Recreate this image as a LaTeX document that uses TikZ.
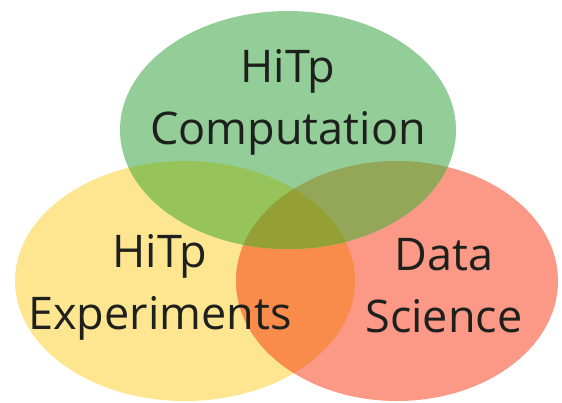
\documentclass[tikz,border=0pt]{standalone}
\usepackage{fontspec}
\setmainfont{Open Sans}
\newcommand{\vennellipse}[3]% center, xdim, ydim
{(#1) ellipse (#2 and #3)
}
\definecolor{compgreen}{RGB}{147,205,151}
\definecolor{expyellow}{RGB}{253,230,143}
\definecolor{datared}{RGB}{251,152,134}
\definecolor{expdata}{RGB}{249,140,75}
\definecolor{compexp}{RGB}{150,196,90}
\definecolor{compdata}{RGB}{148,166,88}
\definecolor{allthree}{RGB}{148,160,52}
\definecolor{lbltext}{RGB}{30,32,30}
\tikzset{
  lbl/.style={align=center, inner sep=0pt, text=lbltext,
    font=\fontsize{45}{62}\selectfont}
}

\begin{document}
\begin{tikzpicture}[x=1pt,y=-1pt]
	\useasboundingbox (0,0) rectangle (562,402);
	\fill[expyellow] \vennellipse{185,281}{170pt}{120pt};%exp
	\fill[datared] \vennellipse{397,281}{161pt}{120pt};%data
	\begin{scope}
	\clip \vennellipse{185,281}{170pt}{120pt};
	\fill[expdata] \vennellipse{397,281}{161pt}{120pt};
	\end{scope}
	\fill[compgreen] \vennellipse{288,130}{168pt}{119pt};%comp
	\begin{scope}
	\clip \vennellipse{288,130}{168pt}{119pt};
	\fill[compexp] \vennellipse{185,281}{170pt}{120pt};
	\fill[compdata] \vennellipse{397,281}{161pt}{120pt};
	\clip \vennellipse{185,281}{170pt}{120pt};
	\fill[allthree] \vennellipse{397,281}{161pt}{120pt};
	\end{scope}
	\node[lbl] (comp) at (288,102) {HiTp\\Computation};
	\node[lbl] (exp) at (160,287) {HiTp\\Experiments};
	\node[lbl] (data) at (444,286) {Data\\Science};
\end{tikzpicture}
\end{document}
